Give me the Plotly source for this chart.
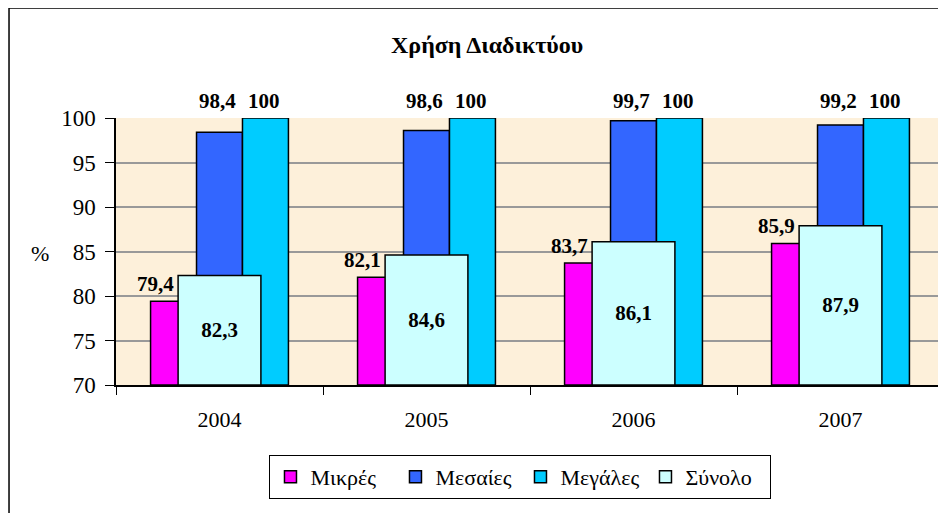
import plotly.graph_objects as go

years = ['2004', '2005', '2006', '2007']
mikres = [79.4, 82.1, 83.7, 85.9]
mesaies = [98.4, 98.6, 99.7, 99.2]
megales = [100, 100, 100, 100]
synolo = [82.3, 84.6, 86.1, 87.9]

names = ['Μικρές', 'Μεσαίες', 'Μεγάλες', 'Σύνολο']
colors = ['#FF00FF', '#3366FF', '#00CCFF', '#CCFFFF']

SERIF = 'Liberation Serif'
Y_MIN = 70


def fmt(v):
    if v == int(v):
        return str(int(v))
    return ('%.1f' % v).replace('.', ',')


fig = go.Figure()

# three small bars side by side, the total drawn wider on top
w = 0.222
for vals, name, col, off in [(mikres, names[0], colors[0], -0.333),
                             (mesaies, names[1], colors[1], -0.111),
                             (megales, names[2], colors[2], 0.111)]:
    fig.add_trace(go.Bar(x=years, y=[v - Y_MIN for v in vals], base=Y_MIN, name=name,
                         width=w, offset=off, hoverinfo='skip',
                         marker=dict(color=col, line=dict(color='black', width=1.5))))

fig.add_trace(go.Bar(x=years, y=[v - Y_MIN for v in synolo], base=Y_MIN, name=names[3],
                     width=0.4, offset=-0.2, hoverinfo='skip',
                     marker=dict(color=colors[3], line=dict(color='black', width=1.5)),
                     text=[fmt(v) for v in synolo], textposition='inside',
                     insidetextanchor='middle', textangle=0,
                     textfont=dict(family=SERIF, size=21, color='black', weight='bold')))

annots = []
lab_font = dict(family=SERIF, size=21, color='black', weight='bold')
# category axis: annotation x is the category index
for i, yr in enumerate(years):
    top = max(mesaies[i], megales[i])
    annots.append(dict(x=i, y=mikres[i], text=fmt(mikres[i]), xshift=-64, yshift=3,
                       yanchor='bottom', showarrow=False, font=lab_font))
    annots.append(dict(x=i, y=top, text=fmt(mesaies[i]), xshift=-2, yshift=3,
                       yanchor='bottom', showarrow=False, font=lab_font))
    annots.append(dict(x=i, y=megales[i], text=fmt(megales[i]), xshift=44, yshift=3,
                       yanchor='bottom', showarrow=False, font=lab_font))

annots.append(dict(xref='paper', yref='paper', x=-0.092, y=0.494, text='%',
                   xanchor='center', showarrow=False,
                   font=dict(family=SERIF, size=22, color='black')))
annots.append(dict(xref='paper', yref='paper', x=0.448, y=1.273, text='Χρήση Διαδικτύου',
                   xanchor='center', yanchor='middle', showarrow=False,
                   font=dict(family=SERIF, size=24, color='black', weight='bold')))

# page body has an 8px margin, so the figure is 8px smaller than the window
fig.update_layout(
    width=938, height=505,
    margin=dict(l=108, r=2, t=110, b=128),
    barmode='overlay',
    paper_bgcolor='white',
    plot_bgcolor='#FDF0DA',
    font=dict(family=SERIF, size=22, color='black'),
    annotations=annots,
    showlegend=True,
    legend=dict(orientation='h', x=0.4885, xanchor='center', y=-0.262, yanchor='top',
                bordercolor='black', borderwidth=1, bgcolor='white', entrywidth=80,
                font=dict(family=SERIF, size=22, color='black')),
    shapes=[
        dict(type='rect', xref='paper', yref='paper', x0=-0.1292, x1=1.2, y0=-0.6, y1=1.412,
             line=dict(color='black', width=1.5), fillcolor='rgba(0,0,0,0)', layer='below'),
        dict(type='line', xref='paper', yref='paper', x0=1, x1=1, y0=0, y1=1,
             line=dict(color='#999999', width=1.5)),
    ],
)
fig.update_xaxes(type='category', range=[-0.5, 3.5], tickson='boundaries', ticks='outside',
                 ticklen=8, tickcolor='black', showline=True, linecolor='black', linewidth=1.5,
                 showgrid=False, tickangle=0, ticklabelstandoff=14,
                 tickfont=dict(family=SERIF, size=22))
fig.update_yaxes(range=[Y_MIN, 100], dtick=5, ticks='outside', ticklen=9, tickcolor='black',
                 showline=True, linecolor='black', linewidth=1.5, gridcolor='#999999',
                 gridwidth=1.5, zeroline=False, ticklabelstandoff=5,
                 tickfont=dict(family=SERIF, size=23))

fig.write_html('out.html')
